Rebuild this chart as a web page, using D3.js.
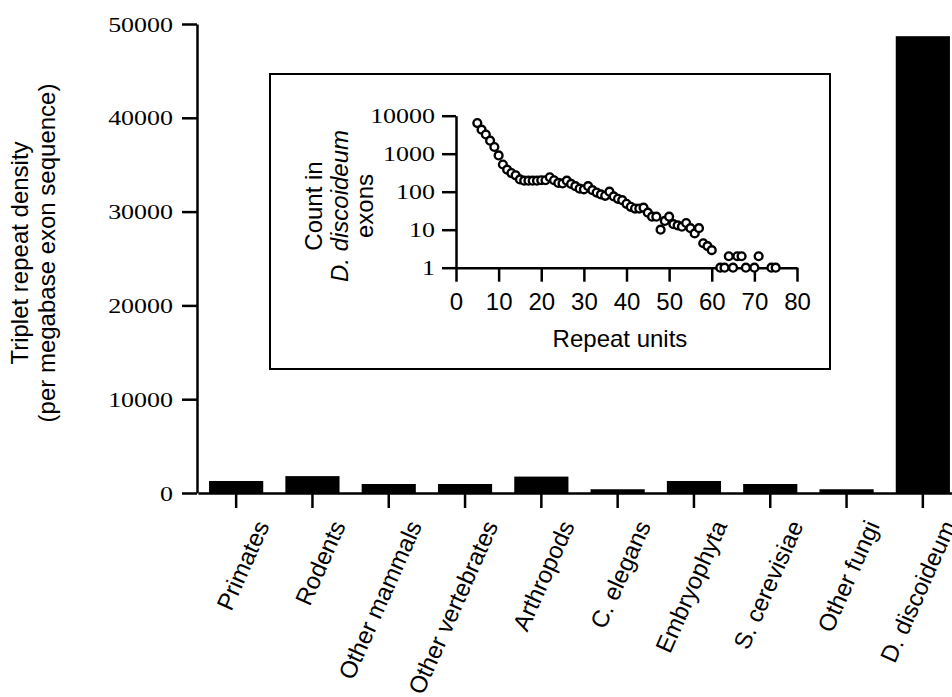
<!DOCTYPE html>
<html>
<head>
  <meta charset="utf-8">
  <style>
    body { margin: 0; background: #fff; }
    text { fill: #000; }
    .sans { font-family: "Liberation Sans", Arial, sans-serif; font-size: 24px; }
    .serif text { font-family: "Liberation Serif", "Times New Roman", serif; font-size: 22px; }
    .axis path, .axis line { stroke: #000; stroke-width: 2.5px; }
  </style>
</head>
<body>
<svg id="chart" width="952" height="697"></svg>
<script src="https://d3js.org/d3.v7.min.js"></script>
<script>
// main bars
var categories = ["Primates", "Rodents", "Other mammals", "Other  vertebrates", "Arthropods",
                  "C. elegans", "Embryophyta", "S. cerevisiae", "Other fungi", "D. discoideum"];
var density = [1280, 1800, 960, 960, 1750, 400, 1280, 960, 400, 48700];
var densityTicks = [0, 10000, 20000, 30000, 40000, 50000];

// inset: counts of repeats in D. discoideum exons by repeat length
var repeatUnits = [5, 6, 7, 8, 9, 10, 11, 12, 13, 14, 15, 16, 17, 18, 19, 20,
                   21, 22, 23, 24, 25, 26, 27, 28, 29, 30, 31, 32, 33, 34, 35, 36,
                   37, 38, 39, 40, 41, 42, 43, 44, 45, 46, 47, 48, 49, 50, 51, 52,
                   53, 54, 55, 56, 57, 58, 59, 60, 62, 63, 64, 65, 66, 67, 68, 70,
                   71, 74, 75];
var counts = [6400, 4300, 3200, 2200, 1500, 900, 520, 380, 310, 270, 210, 195, 195, 195, 195, 200,
              200, 240, 200, 170, 165, 195, 160, 140, 120, 115, 140, 110, 95, 85, 78, 100,
              75, 65, 60, 48, 40, 36, 36, 38, 28, 22, 22, 10, 17, 22, 14, 13,
              12, 15, 11, 8, 11, 4.4, 3.7, 2.9, 1, 1, 2, 1, 2, 2, 1, 1,
              2, 1, 1];
var countTicks = [1, 10, 100, 1000, 10000];
var unitTicks = [0, 10, 20, 30, 40, 50, 60, 70, 80];

var svg = d3.select("#chart");
var sx = 1.18; // serif digits in the original are drawn wide

// ---- main chart ----
var x = d3.scaleBand().domain(categories).range([198, 961])
    .paddingInner(0.29).paddingOuter(0.145);
var y = d3.scaleLinear().domain([0, 50000]).range([493, 24]);

svg.selectAll(".bar")
    .data(categories)
  .enter().append("rect")
    .attr("class", "bar")
    .attr("x", function(d) { return x(d); })
    .attr("width", x.bandwidth())
    .attr("y", function(d, i) { return y(density[i]); })
    .attr("height", function(d, i) { return y(0) - y(density[i]); })
    .style("fill", "#000");

var xAxis = svg.append("g")
    .attr("class", "axis")
    .attr("transform", "translate(0," + y(0) + ")")
    .call(d3.axisBottom(x).tickSize(15).tickSizeOuter(0).tickFormat(""));
xAxis.selectAll(".tick").append("text")
    .attr("class", "sans")
    .attr("transform", "translate(26,29) rotate(-66)")
    .attr("dy", "0.35em")
    .style("text-anchor", "end")
    .text(function(d) { return d; });

var yAxis = svg.append("g")
    .attr("class", "axis serif")
    .attr("transform", "translate(197,0)")
    .call(d3.axisLeft(y).tickValues(densityTicks).tickSize(15).tickSizeOuter(0)
      .tickPadding(9).tickFormat(d3.format("d")));
yAxis.selectAll("text")
    .attr("x", -24 / sx)
    .attr("transform", "scale(" + sx + ",1)");

var yTitle = svg.append("text")
    .attr("class", "sans")
    .attr("transform", "translate(0,253) rotate(-90)")
    .style("text-anchor", "middle");
yTitle.append("tspan").attr("x", 0).attr("y", 28).text("Triplet repeat density");
yTitle.append("tspan").attr("x", 0).attr("y", 55).text("(per megabase exon sequence)");

// ---- inset ----
svg.append("rect")
    .attr("x", 270).attr("y", 74)
    .attr("width", 560).attr("height", 295)
    .style("fill", "#fff").style("stroke", "#000").style("stroke-width", 2);

var ix = d3.scaleLinear().domain([0, 80]).range([456, 797]);
var iy = d3.scaleLog().domain([1, 10000]).range([267.7, 115.7]);

var iyAxis = svg.append("g")
    .attr("class", "axis serif")
    .attr("transform", "translate(456,0)")
    .call(d3.axisLeft(iy).tickValues(countTicks).tickSize(14).tickSizeOuter(0)
      .tickPadding(7).tickFormat(d3.format("d")));
iyAxis.selectAll("text")
    .attr("x", -21 / sx)
    .attr("transform", "scale(" + sx + ",1)");

var ixAxis = svg.append("g")
    .attr("class", "axis")
    .attr("transform", "translate(0," + iy(1) + ")")
    .call(d3.axisBottom(ix).tickValues(unitTicks).tickSize(14).tickSizeOuter(0).tickPadding(8));
ixAxis.selectAll("text")
    .attr("class", "sans")
    .attr("y", 42).attr("dy", 0);

svg.append("text")
    .attr("class", "sans")
    .attr("x", 620).attr("y", 347)
    .style("text-anchor", "middle")
    .text("Repeat units");

var iTitle = svg.append("text")
    .attr("class", "sans")
    .attr("transform", "translate(0,206) rotate(-90)")
    .style("text-anchor", "middle");
iTitle.append("tspan").attr("x", 0).attr("y", 322).text("Count in");
var t2 = iTitle.append("tspan").attr("x", 0).attr("y", 348);
t2.append("tspan").style("font-style", "italic").text("D. discoideum");
iTitle.append("tspan").attr("x", 0).attr("y", 373).text("exons");

svg.selectAll(".pt")
    .data(repeatUnits)
  .enter().append("circle")
    .attr("class", "pt")
    .attr("cx", function(d) { return ix(d); })
    .attr("cy", function(d, i) { return iy(counts[i]); })
    .attr("r", 3.9)
    .style("fill", "#fff")
    .style("stroke", "#000")
    .style("stroke-width", 2.4);
</script>
</body>
</html>
